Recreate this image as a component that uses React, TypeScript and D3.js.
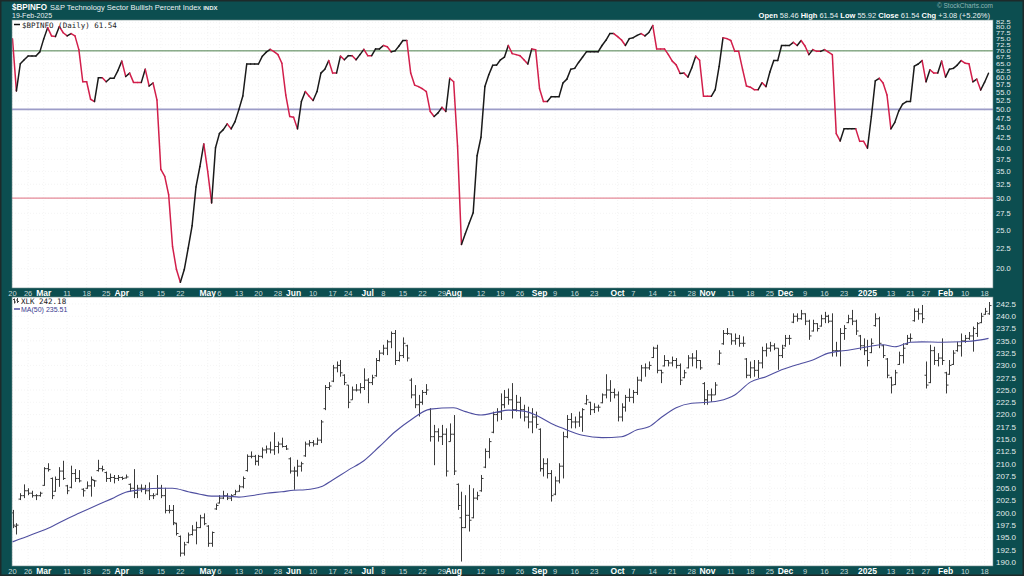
import React from 'react';
import * as d3 from 'd3';

// ---------- calendar ----------
const startDate = '2024-02-20';
const endDate = '2025-02-19';
const holidays = ['2024-03-29','2024-05-27','2024-06-19','2024-07-04','2024-09-02','2024-11-28','2024-12-25','2025-01-01','2025-01-09','2025-01-20','2025-02-17'];

// ---------- date tick labels ----------
const tickDates = ['2024-02-20','2024-02-26','2024-03-01','2024-03-11','2024-03-18','2024-03-25','2024-04-01','2024-04-08','2024-04-15','2024-04-22','2024-05-01','2024-05-06','2024-05-13','2024-05-20','2024-05-28','2024-06-03','2024-06-10','2024-06-17','2024-06-24','2024-07-01','2024-07-08','2024-07-15','2024-07-22','2024-07-29','2024-08-01','2024-08-12','2024-08-19','2024-08-26','2024-09-03','2024-09-09','2024-09-16','2024-09-23','2024-10-01','2024-10-07','2024-10-14','2024-10-21','2024-10-28','2024-11-01','2024-11-11','2024-11-18','2024-11-25','2024-12-02','2024-12-09','2024-12-16','2024-12-23','2025-01-02','2025-01-13','2025-01-21','2025-01-27','2025-02-03','2025-02-10','2025-02-18'];
const tickLabels = ['20','26','Mar','11','18','25','Apr','8','15','22','May','6','13','20','28','Jun','10','17','24','Jul','8','15','22','29','Aug','12','19','26','Sep','9','16','23','Oct','7','14','21','28','Nov','11','18','25','Dec','9','16','23','2025','13','21','27','Feb','10','18'];

// ---------- $BPINFO daily ----------
const bpi = [75,55.6,65,66.5,68,68,68,69.6,75,80,
 76.3,76,80.5,77.7,76.3,77.3,76.3,70.5,58.6,58.6,
 53,52.3,60,60,58.6,59.8,59.8,62.5,66,60.4,
 61.6,58.4,58.4,58.4,63,57.2,58.2,52.8,35.4,34,
 30.6,22.7,19.9,18.5,19.9,22.5,25.6,32,36,41,
 35,29.2,40.1,43.5,44.5,46,44.7,46.6,50,54,
 64.9,64.9,64.9,64.9,67.9,69.5,70.6,69.7,68.5,65.2,
 54.3,48,47.8,44.7,52.3,55.4,53.9,52.6,55.4,61.6,
 63,66.2,61.6,61.6,67.9,66.5,68.1,68.1,66.5,68.5,
 70.6,68.1,68.1,70.8,70.8,72.2,71.7,69.6,70,72,
 74.3,74.3,61.6,57.5,57,56.3,55.4,49.4,48,49,
 50.6,49.4,59.8,58.6,40.5,23,24.5,26,27.6,38.3,
 42.6,57,61,64.4,64.5,66.5,67.5,72.2,68.9,68.5,
 68.1,66.5,64.9,70.8,70.5,56.3,52.3,52.3,53.8,53.8,
 53.8,58.2,59.5,63,63.3,65.5,67.5,69.6,69.6,69.6,
 69.6,72.2,74.4,77.3,77.3,76,74.5,72.2,75.1,75.5,
 76.5,77.3,76.3,77.8,81,70.8,70.8,70.8,68.5,66,
 64.6,61.5,61.6,60.2,63.5,67.9,66.3,53.9,53.9,53.9,
 56,64,75.5,75.1,74.3,69.8,69.8,63,57.2,56.8,
 56,56,58.3,57,62,66.2,66.2,72.2,72.2,72.2,
 73.5,72.2,74.3,72,68.5,70.5,69.8,69.8,70.5,69.5,
 68.5,43.5,41.7,44.7,44.7,44.7,44.7,41.6,41.6,40,
 48,58.9,59.8,58.2,54.3,44.7,46.4,49.5,51.5,52.3,
 52.3,64.1,64.9,66.2,58.6,62.8,61.6,61.6,66,60.2,
 63,63.3,64.5,66.2,65.2,65,58.6,59.5,55.9,58.46,
 61.54];
const bpiRefLines = [70, 50, 30];
const bpiTicks = [20,22.5,25,27.5,30,32.5,35,37.5,40,42.5,45,47.5,50,52.5,55,57.5,60,62.5,65,67.5,70,72.5,75,77.5,80,82.5];

// ---------- XLK daily OHLC ----------
const xlkOpen = [200,197.2,202.8,203.5,204.5,204,203.5,203.5,205.6,209,
 207,204.4,206.8,208.5,205.5,205.2,208,207,204.8,205,
 205.5,206.6,208.6,209,208.2,207,207.2,207,207.2,207.1,
 205.8,205,204,205,205,204.5,203.5,203.8,205,203.5,
 200.5,200.5,197.8,195.2,191.8,194,195.6,196.5,197,199,
 197.3,193.8,200.8,202,203,203.5,203,203.7,204.4,205.3,
 208.6,211.5,211.5,210.5,211.5,212.8,213,212.8,213.5,214,
 213.5,211,208.5,208.5,209.5,211.6,214,214.3,214,214.8,
 221.2,225.5,226.8,229.5,230,228,226,223,225,225,
 225.5,227,226.5,227.9,231,232.5,233.5,234.8,236.5,231,
 232,234,227,224,222,222.5,224.5,221,215.5,216.5,
 215.5,216,214.5,216,205.8,199,197,199.5,199,203,
 204.5,209.3,212.5,216.4,220,220.5,222,223.5,223,221,
 222.5,221,219.5,218.5,219.5,217,209,210,208,203.8,
 206.5,209.5,215.5,219,218.5,218.5,219.5,222.2,222.5,221,
 221.5,222.4,224,225,224.5,224,219.5,221.5,223.5,223.5,
 224.5,227,229.5,229.5,231.6,233.5,229,229.9,231,230.5,
 231,230,227.5,229.5,231.5,231.5,231,226.3,223,224,
 224,230.3,234.4,236.5,236.4,235,235.5,234.5,231.3,228,
 229.5,229,230.5,233,233.5,234,233.5,232,234,235.5,
 238.8,240,239.5,240.5,239,237,238.5,238,239.5,240,
 239,233,233,236.5,238.7,239.5,239,236,234,233,
 232.6,238.1,239.5,234,231.3,227.5,226.1,230.2,232,234.3,
 235.5,239.1,241,240.5,228,226.5,233,231,231.5,228.5,
 228.2,230.2,233,234,235,235.5,236,236.5,238.7,240.4,
 240.5];
const xlkHigh = [200.6,197.9,204.0,205.8,205.0,204.5,203.8,204.3,209.3,210.1,
 207.2,207.4,209.3,210.6,205.7,209.6,208.9,208.7,205.0,206.4,
 207.4,206.7,210.8,209.6,208.4,208.0,207.7,207.7,207.4,207.8,
 206.0,208.9,205.7,205.8,205.7,206.2,204.0,207.7,205.7,205.1,
 201.6,201.6,198.0,195.4,194.1,196.0,197.5,198.2,199.6,199.9,
 197.5,196.2,201.9,203.6,204.5,204.0,203.8,204.7,205.7,207.4,
 211.9,212.5,211.8,211.8,213.3,213.7,214.5,216.4,214.5,215.3,
 213.8,211.3,209.4,210.8,210.4,214.5,214.8,214.8,215.3,218.9,
 226.0,226.6,230.1,230.8,231.1,228.2,226.0,225.7,226.2,226.4,
 229.4,227.4,228.1,231.5,233.1,234.2,235.2,236.9,237.2,232.8,
 235.7,234.2,227.4,226.0,224.0,225.0,226.2,221.3,217.9,217.2,
 217.9,217.2,218.2,219.9,206.0,204.3,203.6,205.7,205.0,204.3,
 207.7,213.1,215.2,220.6,221.3,224.3,225.0,225.3,226.4,224.0,
 223.6,222.0,221.6,221.3,220.6,217.2,211.1,211.1,208.7,207.4,
 210.1,216.5,219.9,220.3,219.6,220.6,221.3,224.0,222.6,222.3,
 222.0,224.3,228.2,227.0,225.3,224.7,222.3,224.0,225.3,225.0,
 227.7,230.1,230.4,230.8,233.8,234.2,229.1,232.1,231.1,231.8,
 231.5,230.4,229.1,232.1,232.5,233.1,231.1,226.6,225.0,225.3,
 226.6,233.1,237.2,237.6,236.5,236.5,236.2,235.9,231.5,230.8,
 231.1,231.1,233.8,234.5,234.8,234.5,233.5,234.2,236.2,236.2,
 240.6,240.6,241.3,240.6,239.3,239.3,238.6,240.3,240.9,240.3,
 240.6,234.8,237.6,238.2,240.3,241.3,239.3,236.2,235.5,235.2,
 235.5,240.6,239.9,234.2,231.5,227.7,229.1,232.8,234.5,236.2,
 236.5,241.6,241.6,242.3,230.8,234.2,233.8,232.5,235.5,228.7,
 231.1,233.1,234.8,236.5,236.2,236.8,237.9,238.8,240.7,241.7,
 242.9];
const xlkLow = [196.9,195.6,202.6,203.0,203.6,203.1,202.6,203.3,205.5,208.4,
 202.8,204.3,205.3,206.7,203.8,205.0,206.3,206.2,203.3,204.9,
 203.3,205.3,208.4,208.4,206.3,206.3,206.0,206.5,206.7,207.0,
 204.3,203.0,203.0,204.2,203.8,202.6,202.8,203.6,203.0,199.9,
 199.9,197.5,195.4,191.1,191.3,193.8,195.4,193.6,196.9,197.5,
 193.1,193.1,200.6,201.9,202.8,202.6,202.4,203.6,204.3,205.0,
 208.4,211.1,209.7,209.6,211.1,212.1,212.1,211.8,212.1,213.3,
 212.8,208.0,204.7,207.4,208.4,211.4,213.5,213.5,213.8,214.2,
 220.9,225.0,226.6,228.6,227.7,226.0,221.3,223.0,224.7,224.3,
 225.0,222.3,226.0,227.7,230.8,232.1,232.1,233.5,230.1,230.8,
 231.5,230.8,223.3,221.3,219.6,222.0,224.0,214.5,209.7,214.5,
 213.8,207.4,214.5,207.7,200.6,190.1,196.9,196.2,198.9,202.6,
 204.3,209.1,211.1,216.2,218.6,218.9,221.3,222.0,219.2,220.6,
 219.2,218.6,217.2,216.2,217.2,208.4,207.4,207.0,202.3,203.6,
 206.0,207.0,215.2,217.2,217.2,217.5,216.5,222.0,219.9,220.3,
 220.6,222.3,223.3,222.6,223.3,218.6,218.6,220.6,222.6,222.3,
 224.0,226.7,227.7,229.1,231.5,228.4,226.4,229.8,229.8,229.8,
 229.4,226.0,227.4,229.4,229.8,229.4,229.1,222.0,222.0,222.6,
 224.0,230.1,234.2,236.2,234.2,234.2,233.8,233.8,227.4,227.4,
 227.7,227.4,229.4,231.8,232.8,233.1,229.1,231.5,233.8,234.2,
 238.6,238.9,239.3,238.2,235.2,236.9,236.9,237.9,238.6,238.6,
 231.8,231.8,229.8,235.2,238.6,238.2,236.2,233.1,232.1,229.8,
 232.5,237.9,233.5,231.5,227.4,224.3,226.0,230.1,230.4,234.2,
 234.8,238.9,239.3,238.6,225.3,226.4,230.1,229.8,230.1,224.3,
 228.1,230.1,232.8,231.8,234.6,235.2,232.8,235.8,238.6,240.3,
 240.3];
const xlkClose = [197.5,197.5,203.5,204.5,204,203.5,203.5,204,209,208.8,
 203.5,206.8,208.5,207,204.5,208,207,206.5,204.5,205.5,
 206.8,206.5,209,208.8,207,207.2,207,207.2,207,207.3,
 205,204,205,205,204.5,203.5,203.5,205,203.5,200.5,
 200.5,198,195.8,191.8,193.5,195.5,196.5,197,199,197.8,
 193.8,196,201.5,203,203.5,203,203.5,204.3,205.3,207,
 211.5,211.5,210.5,211.5,212.8,213,212.8,213.5,214,213.5,
 213,208.5,208.5,209.5,210,214,214.3,214,214.8,218.5,
 225.5,225.8,229.5,230,228.5,226.5,222.5,225,225,225.5,
 227,226.5,227.5,231,232.5,233.5,234.8,236.5,231,232,
 234.5,231.5,224,222,222.5,224.5,225,215.5,216.5,215.5,
 216,208.5,216,208.5,201.5,197,199.5,198.5,203,203.5,
 207,212.5,214.5,220,220.5,222,223.5,223,221,222.5,
 221,219.5,218.5,219.5,218,209,210,208,203.5,206.5,
 209.5,215.5,219,218.5,218.5,219.5,221,223,221,221.5,
 221.5,224,225,224.5,224,219.5,221.5,223.5,223.5,224.5,
 227,229.5,229.5,230,233.5,229,228.5,231,230.5,231,
 230,227,228.5,231.5,231.5,231,229.5,223,224,224,
 226,232.5,236.5,236.5,235,235.5,234.5,234.5,228,229.5,
 229,230.5,233,233.5,234,233.5,232,233.5,235.5,235.5,
 240,239.5,240.5,239,236,238.5,237.5,239.5,240,239,
 233,233,236.5,237.5,239.5,239,237,234,233,231,
 234.5,239.5,234.5,232,228,226,228.5,232,233.5,235.5,
 235.5,241,240.5,239.5,226,233,231,231.5,231,226,
 230,232.5,234,235,235.5,236,237.5,238.5,240,241,
 242.18];

// ---------- XLK 50-day moving average, read at sampled trading days ----------
const maDayIndex = [0,5,10,14,17,22,26,29,33,38,41,45,48,51,55,58,62,65,69,72,75,79,82,86,90,94,98,102,107,113,116,120,124,127,131,134,138,141,146,151,156,160,163,166,170,174,178,181,185,189,193,197,202,205,209,211,214,219,223,226,230,233,238,243,248,250];
const maValue = [194.1,195.6,197.2,198.8,199.9,201.7,203.1,204.2,204.7,205.0,205.0,204.3,203.8,203.4,203.4,203.2,203.6,204.0,204.3,204.6,204.7,205.3,206.7,208.7,210.6,213.5,216.5,218.9,221.1,221.4,220.6,219.9,220.5,220.9,220.7,219.9,218.2,217.2,215.8,215.3,215.5,216.9,217.5,219.3,221.4,222.3,222.5,222.8,224.0,226.6,227.7,229.1,230.4,231.1,232.5,232.8,233.1,233.8,234.2,233.8,234.7,234.8,234.7,234.8,235.2,235.51];
const xlkTicks = [190,192.5,195,197.5,200,202.5,205,207.5,210,212.5,215,217.5,220,222.5,225,227.5,230,232.5,235,237.5,240,242.5];

// ---------- style ----------
const TEAL = '#0c4e50';
const SANS = "'Liberation Sans', Arial, sans-serif";
const MONO = "'DejaVu Sans Mono', 'Liberation Mono', monospace";
const UP = '#1a1a1a';
const DOWN = '#d21f4b';

function tradingDays(): string[] {
  const fmt = d3.utcFormat('%Y-%m-%d');
  const out: string[] = [];
  let d = new Date(startDate + 'T00:00:00Z');
  while (fmt(d) <= endDate) {
    const wd = d.getUTCDay();
    const s = fmt(d);
    if (wd !== 0 && wd !== 6 && !holidays.includes(s)) out.push(s);
    d = d3.utcDay.offset(d, 1);
  }
  return out;
}

const fmt1 = d3.format('.1f');

export default function App() {
  const days = tradingDays();
  const n = days.length;
  const L = 12, R = 993;
  const topY0 = 20, topY1 = 288, botY0 = 297, botY1 = 566;
  const x = d3.scaleLinear().domain([0, n - 1]).range([12.5, 988.5]);
  const yTop = d3.scaleLog().domain([17.9, 83.6]).range([topY1, topY0]);
  const yBot = d3.scaleLinear().domain([189.19, 243.92]).range([botY1, botY0]);

  // colour of each BPI segment by direction
  let prev = UP;
  const segs = bpi.slice(1).map((v, k) => {
    const p = bpi[k];
    const c = v > p ? UP : v < p ? DOWN : prev;
    prev = c;
    return { x1: x(k), y1: yTop(p), x2: x(k + 1), y2: yTop(v), c };
  });

  const maLine = d3.line<number>()
    .x((_, i) => x(maDayIndex[i]))
    .y(d => yBot(d))
    .curve(d3.curveMonotoneX)(maValue) || '';

  const ticks = tickDates.map((d, i) => ({ idx: days.indexOf(d), label: tickLabels[i] }));
  const isMonth = (s: string) => /^[A-Z]/.test(s) || s === '2025';

  // log-scale labels crowd together near the top: squeeze them vertically
  const topLabels = bpiTicks.map((t, i) => {
    const y = yTop(t);
    const gapBelow = i > 0 ? yTop(bpiTicks[i - 1]) - y : 99;
    const gapAbove = i < bpiTicks.length - 1 ? y - yTop(bpiTicks[i + 1]) : 99;
    const gap = Math.min(gapBelow, gapAbove);
    const s = Math.min(1, gap / 8.2);
    return { t, y, s };
  });

  const dateRow = (yb: number, key: string) => (
    <g key={key}>
      {ticks.map((t, i) => (
        <text key={i} x={x(t.idx)} y={yb} textAnchor="middle" fontFamily={SANS}
          fontSize={isMonth(t.label) ? 8.5 : 7.5} fontWeight={isMonth(t.label) ? 'bold' : 'normal'}
          fill={isMonth(t.label) ? '#ffffff' : '#c9dada'}>{t.label}</text>
      ))}
    </g>
  );

  return (
    <svg width={1024} height={576} style={{ position: 'fixed', left: 0, top: 0 }}>
      <defs>
        <clipPath id="clipTop"><rect x={L} y={topY0} width={R - L} height={topY1 - topY0} /></clipPath>
        <clipPath id="clipBot"><rect x={L} y={botY0} width={R - L} height={botY1 - botY0} /></clipPath>
      </defs>
      <rect x={0} y={0} width={1024} height={576} fill={TEAL} />
      <rect x={0.75} y={0.75} width={1022.5} height={574.5} fill="none" stroke="#1d2a2a" strokeWidth={1.5} />

      {/* header */}
      <text x={12} y={10} fontFamily={SANS} fontSize={9.5} fontWeight="bold" fill="#ffffff" textLength={35} lengthAdjust="spacingAndGlyphs">$BPINFO</text>
      <text x={50} y={9.5} fontFamily={SANS} fontSize={7.5} fill="#e8f0f0">S&amp;P Technology Sector Bullish Percent Index <tspan fontSize={6} fontWeight="bold">INDX</tspan></text>
      <text x={12} y={18} fontFamily={SANS} fontSize={7} fill="#e8f0f0">19-Feb-2025</text>
      <text x={993} y={8} textAnchor="end" fontFamily={SANS} fontSize={6.5} fill="#8fb5b5">© StockCharts.com</text>
      <text x={990} y={17.5} textAnchor="end" fontFamily={SANS} fontSize={7.5} fill="#e8f0f0">
        <tspan fontWeight="bold" fill="#ffffff">Open</tspan> 58.46  <tspan fontWeight="bold" fill="#ffffff">High</tspan> 61.54  <tspan fontWeight="bold" fill="#ffffff">Low</tspan> 55.92  <tspan fontWeight="bold" fill="#ffffff">Close</tspan> 61.54  <tspan fontWeight="bold" fill="#ffffff">Chg</tspan> +3.08 (+5.26%)
      </text>

      {/* panels */}
      <rect x={L} y={topY0} width={R - L} height={topY1 - topY0} fill="#ffffff" />
      <rect x={L} y={botY0} width={R - L} height={botY1 - botY0} fill="#ffffff" />

      {/* grid */}
      <g stroke="#ededed" strokeWidth={0.6} strokeDasharray="1,2">
        {bpiTicks.map(t => <line key={'gt' + t} x1={L} x2={R} y1={yTop(t)} y2={yTop(t)} />)}
        {xlkTicks.map(t => <line key={'gb' + t} x1={L} x2={R} y1={yBot(t)} y2={yBot(t)} />)}
        {ticks.map((t, i) => <line key={'vt' + i} x1={x(t.idx)} x2={x(t.idx)} y1={topY0} y2={topY1} />)}
        {ticks.map((t, i) => <line key={'vb' + i} x1={x(t.idx)} x2={x(t.idx)} y1={botY0} y2={botY1} />)}
      </g>

      {/* reference lines */}
      <line x1={L} x2={R} y1={yTop(bpiRefLines[0])} y2={yTop(bpiRefLines[0])} stroke="#4b7f4b" strokeWidth={1} />
      <line x1={L} x2={R} y1={yTop(bpiRefLines[1])} y2={yTop(bpiRefLines[1])} stroke="#9c9cc8" strokeWidth={1.6} />
      <line x1={L} x2={R} y1={yTop(bpiRefLines[2])} y2={yTop(bpiRefLines[2])} stroke="#e58a98" strokeWidth={1.2} />

      {/* BPI line */}
      <g clipPath="url(#clipTop)" strokeWidth={1.5} strokeLinecap="round">
        {segs.map((s, i) => <line key={i} x1={s.x1} y1={s.y1} x2={s.x2} y2={s.y2} stroke={s.c} />)}
      </g>

      {/* top legend */}
      <line x1={14} x2={20} y1={24.5} y2={24.5} stroke="#111" strokeWidth={1.5} />
      <text x={22} y={27.5} fontFamily={MONO} fontSize={7.5} fill="#222">$BPINFO (Daily) 61.54</text>

      {/* XLK bars */}
      <g clipPath="url(#clipBot)" stroke="#3a3a3a" strokeWidth={1}>
        {xlkHigh.map((h, i) => {
          const cx = Math.round(x(i)) + 0.5;
          return (
            <g key={i}>
              <line x1={cx} x2={cx} y1={yBot(h)} y2={yBot(xlkLow[i])} />
              <line x1={cx - 2} x2={cx} y1={yBot(xlkOpen[i])} y2={yBot(xlkOpen[i])} />
              <line x1={cx} x2={cx + 2} y1={yBot(xlkClose[i])} y2={yBot(xlkClose[i])} />
            </g>
          );
        })}
      </g>
      <path d={maLine} fill="none" stroke="#4f4fa0" strokeWidth={1.1} clipPath="url(#clipBot)" />

      {/* bottom legend */}
      <path d="M14.5,298.5 v5 M13,299.5 h1.5 M14.5,302 h1.5 M17.5,298 v5 M16,300 h1.5 M17.5,301.5 h1.5" stroke="#333" strokeWidth={0.9} fill="none" />
      <text x={21} y={304} fontFamily={MONO} fontSize={7.5} fill="#222">XLK 242.18</text>
      <line x1={14} x2={20} y1={309} y2={309} stroke="#4f4fa0" strokeWidth={1.5} />
      <text x={21} y={312} fontFamily={SANS} fontSize={7} fill="#3a3a90">MA(50) 235.51</text>

      {/* panel borders */}
      <rect x={L} y={topY0} width={R - L} height={topY1 - topY0} fill="none" stroke="#6f8a8a" strokeWidth={0.6} />
      <rect x={L} y={botY0} width={R - L} height={botY1 - botY0} fill="none" stroke="#6f8a8a" strokeWidth={0.6} />

      {/* y-axis labels */}
      {topLabels.map(({ t, y, s }) => (
        <text key={'yt' + t} transform={`translate(996,${y}) scale(1,${s})`} y={2.6}
          fontFamily={SANS} fontSize={7.5} fill="#e3ecec">{fmt1(t)}</text>
      ))}
      {xlkTicks.map(t => (
        <text key={'yb' + t} x={996} y={yBot(t) + 2.8} fontFamily={SANS} fontSize={8} fill="#e3ecec">{fmt1(t)}</text>
      ))}

      {/* date axes */}
      {dateRow(295.5, 'd1')}
      {dateRow(574, 'd2')}
    </svg>
  );
}
